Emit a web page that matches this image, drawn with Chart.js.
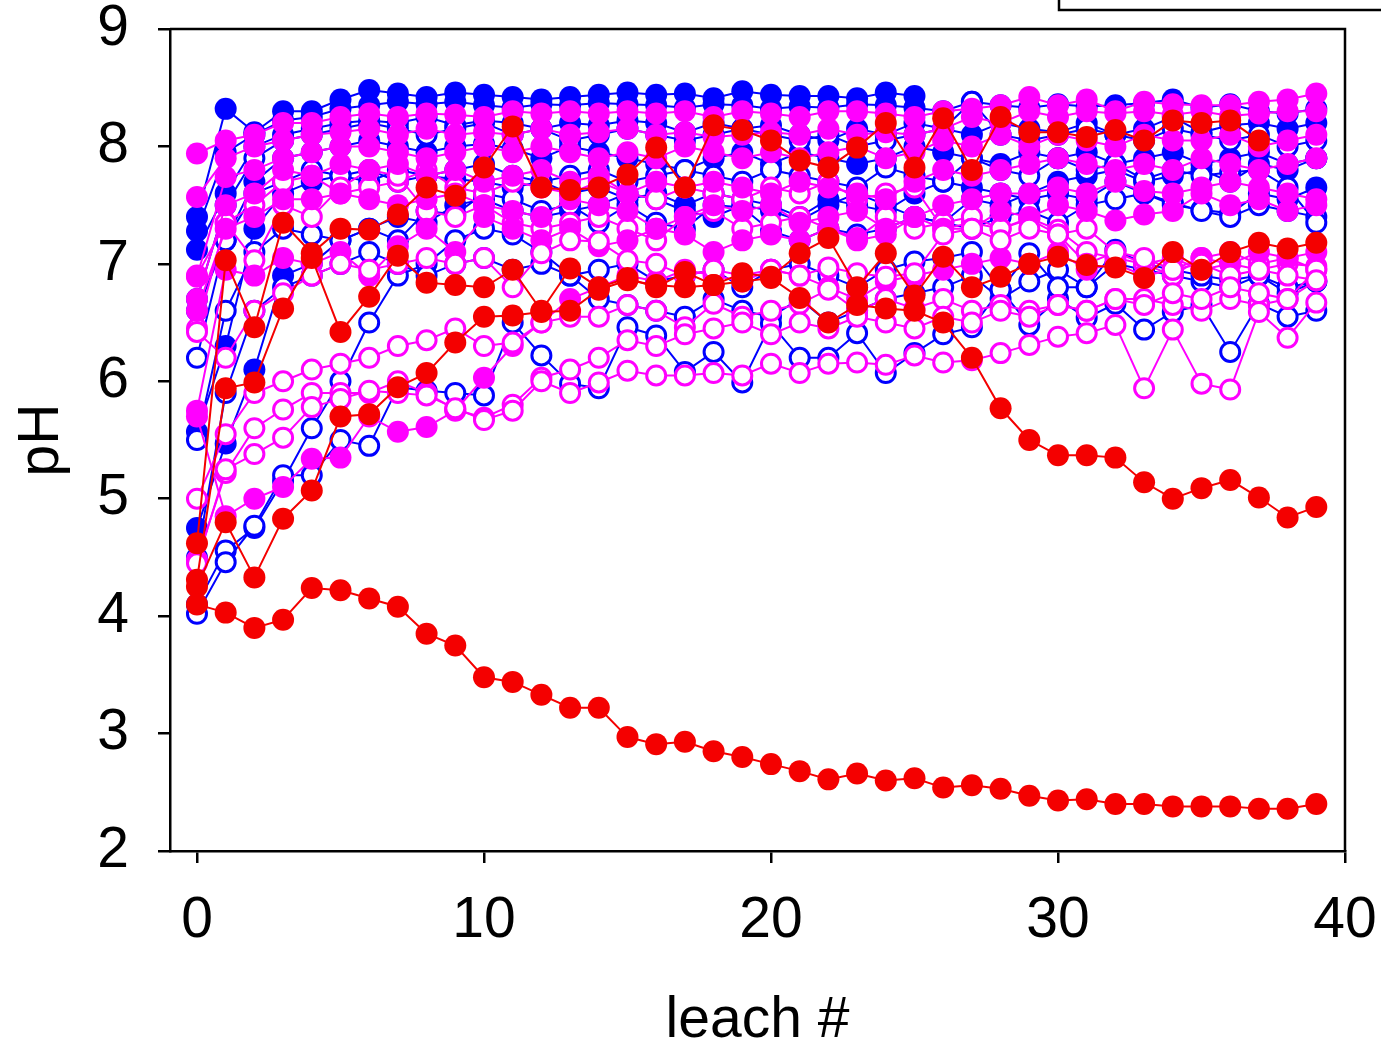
<!DOCTYPE html>
<html>
<head>
<meta charset="utf-8">
<script src="https://cdn.jsdelivr.net/npm/chart.js@4.4.1/dist/chart.umd.min.js"></script>
<style>
html,body{margin:0;padding:0;background:#fff;}
#wrap{width:1381px;height:1043px;position:relative;}
</style>
</head>
<body>
<div id="wrap"><canvas id="c" width="1381" height="1043"></canvas></div>
<script>
// ---------- data ----------
const leach = [0,1,2,3,4,5,6,7,8,9,10,11,12,13,14,15,16,17,18,19,20,21,22,23,24,25,26,27,28,29,30,31,32,33,34,35,36,37,38,39];
const xTicks = [0,10,20,30,40];
const yTicks = [2,3,4,5,6,7,8,9];

// red, filled
const redA = [4.10,4.03,3.90,3.97,4.24,4.22,4.15,4.08,3.85,3.75,3.48,3.44,3.33,3.22,3.22,2.97,2.91,2.93,2.85,2.80,2.74,2.68,2.61,2.66,2.60,2.62,2.54,2.56,2.53,2.47,2.43,2.44,2.40,2.40,2.38,2.38,2.38,2.36,2.36,2.40];
const redB = [4.25,4.80,4.33,4.83,5.07,5.70,5.72,5.95,6.07,6.33,6.55,6.56,6.59,6.60,6.78,6.86,6.82,6.80,6.82,6.85,6.88,6.71,6.50,6.65,6.62,6.60,6.50,6.20,5.77,5.50,5.37,5.37,5.35,5.14,5.00,5.09,5.16,5.01,4.84,4.93];
const redC = [4.31,5.94,5.99,6.62,7.05,6.42,6.72,7.07,6.84,6.82,6.80,6.95,6.60,6.96,6.80,6.88,6.80,6.93,6.82,6.92,6.89,7.09,7.22,6.80,7.09,6.73,7.06,6.80,6.89,7.00,7.06,6.99,6.97,6.88,7.10,6.95,7.10,7.18,7.13,7.18];
const redD = [4.62,7.03,6.46,7.35,7.09,7.30,7.29,7.42,7.65,7.58,7.82,8.17,7.65,7.63,7.65,7.76,7.99,7.65,8.18,8.14,8.05,7.88,7.82,7.99,8.20,7.82,8.24,7.80,8.25,8.12,8.12,8.08,8.14,8.05,8.22,8.20,8.22,8.05];

// blue, filled
const blueF1 = [7.40,8.32,8.12,8.30,8.30,8.40,8.48,8.45,8.42,8.46,8.44,8.42,8.40,8.42,8.44,8.46,8.44,8.45,8.41,8.47,8.44,8.43,8.43,8.41,8.46,8.43];
const blueF2 = [7.28,7.95,8.10,8.22,8.25,8.32,8.35,8.38,8.36,8.38,8.35,8.33,8.36,8.35,8.37,8.36,8.35,8.33,8.36,8.35,8.32,8.34,8.33,8.36,8.35,8.33,8.30,8.38,8.35,8.33,8.36,8.34,8.35,8.37,8.40,8.33,8.36,8.30,8.28,8.32];
const blueF3 = [7.12,7.60,8.00,8.10,8.15,8.20,8.22,8.20,8.25,8.18,8.22,8.20,8.15,8.20,8.18,8.22,8.20,8.12,8.20,8.15,8.18,8.10,8.05,8.15,8.10,8.20,8.15,8.10,8.20,8.15,8.12,8.20,8.10,8.15,8.25,8.12,8.18,8.20,8.15,8.20];
const blueF4 = [6.60,7.20,7.70,7.90,7.95,8.00,8.05,8.00,7.95,8.00,8.02,7.98,7.90,8.00,7.95,7.90,7.85,7.80,7.90,7.95,7.85,7.95,7.90,7.85,7.90,8.00,7.95,7.90,7.85,7.95,7.90,7.95,7.85,7.90,7.95,7.85,7.90,7.95,7.85,7.90];
const blueF5 = [5.57,6.30,7.30,7.60,7.70,7.75,7.80,7.70,7.75,7.72,7.70,7.65,7.70,7.60,7.65,7.55,7.60,7.50,7.60,7.55,7.50,7.40,7.55,7.50,7.45,7.60,7.70,7.65,7.60,7.55,7.60,7.55,7.70,7.60,7.50,7.46,7.43,7.60,7.55,7.65];
const blueF6 = [4.75,5.47,6.10,6.90,7.00,7.20,7.30,7.40,7.35,7.50,7.55,7.45,7.40,7.45,7.50,7.60,7.55,7.45,7.40,7.50,7.45,7.37,7.50,7.60,7.50,7.40,7.35,7.55,7.50,7.60,7.70,7.75,7.80,7.70,7.75,7.80,7.70,7.85,7.80,7.90];

// blue, open
const blueO1 = [6.70,7.50,7.90,8.05,8.10,8.15,8.20,8.15,8.10,8.15,8.20,8.10,8.15,8.05,8.10,8.15,8.10,8.05,8.10,8.15,8.10,8.05,8.10,8.00,8.05,8.10,8.15,8.38,8.10,8.05,8.10,8.15,8.10,8.05,8.15,8.10,8.05,8.10,8.00,8.05];
const blueO2 = [6.20,7.20,7.60,7.70,7.80,7.75,7.70,7.80,7.75,7.80,7.85,7.75,7.70,7.75,7.80,7.70,7.75,7.80,7.75,7.70,7.80,7.75,7.70,7.65,7.82,7.75,7.70,7.90,7.80,7.75,7.90,7.80,7.85,7.72,7.80,7.75,7.78,7.80,7.65,7.35];
const blueO3 = [5.50,6.60,7.10,7.30,7.25,7.20,7.30,7.20,7.45,7.42,7.60,7.55,7.45,7.50,7.35,7.50,7.35,7.30,7.50,7.48,7.28,7.20,7.30,7.25,7.30,7.40,7.35,7.30,7.40,7.45,7.35,7.50,7.55,7.60,7.52,7.45,7.40,7.50,7.45,7.40];
const blueO4 = [4.50,5.90,6.60,6.80,6.90,7.00,7.10,7.00,6.90,7.00,7.05,6.95,7.00,6.90,6.95,7.00,6.85,6.90,6.95,6.80,6.95,7.00,6.90,6.80,6.95,7.02,7.05,7.10,6.78,7.09,6.80,6.80,7.12,7.00,6.95,6.90,6.86,6.90,6.80,6.85];
const blueO5 = [4.02,4.46,4.77,5.20,5.20,5.50,5.45,5.95,5.92,5.90,5.88,6.50,6.22,5.98,5.94,6.46,6.39,6.08,6.25,5.99,6.49,6.20,6.20,6.41,6.07,6.24,6.40,6.46,6.78,6.48,6.70,6.54,6.66,6.44,6.59,6.65,6.25,6.66,6.55,6.60];
const blueO6 = [4.10,4.56,4.75,5.15,5.60,6.00,6.50,6.90,7.00,7.20,7.30,7.25,7.10,6.90,6.70,6.65,6.60,6.55,6.70,6.60,6.55,6.70,6.50,6.60,6.70,6.75,6.80,6.90,6.70,6.85,6.95,6.80,7.00,6.95,6.90,6.85,6.80,6.90,6.75,6.85];

// magenta, filled
const magF1 = [7.94,8.05,8.10,8.20,8.20,8.25,8.28,8.25,8.28,8.27,8.25,8.30,8.28,8.30,8.28,8.30,8.28,8.30,8.25,8.30,8.28,8.25,8.30,8.30,8.28,8.25,8.30,8.32,8.35,8.42,8.35,8.40,8.30,8.38,8.36,8.35,8.35,8.38,8.40,8.45];
const magF2 = [7.57,7.90,8.00,8.05,8.10,8.12,8.15,8.10,8.15,8.10,8.12,8.10,8.15,8.10,8.12,8.15,8.10,8.12,8.08,8.10,8.12,8.10,8.15,8.10,8.12,8.10,8.15,8.25,8.20,8.30,8.25,8.30,8.28,8.30,8.27,8.30,8.26,8.28,8.30,8.30];
const magF3 = [6.89,7.74,7.80,7.90,7.95,8.00,8.00,7.95,7.90,7.95,8.00,7.95,8.00,7.95,7.90,7.95,7.90,8.00,7.95,7.90,7.95,7.90,7.95,8.00,7.90,7.95,8.05,8.00,8.10,8.00,8.10,8.05,8.00,8.10,8.05,8.05,8.10,8.00,8.05,8.10];
const magF4 = [6.70,7.50,7.60,7.80,7.75,7.85,7.80,7.85,7.75,7.80,7.70,7.75,7.80,7.70,7.75,7.60,7.70,7.65,7.70,7.65,7.60,7.70,7.65,7.60,7.55,7.70,7.80,7.75,7.80,7.85,7.90,7.85,7.80,7.85,7.80,7.90,7.85,7.80,7.85,7.90];
const magF5 = [6.60,7.30,7.40,7.55,7.55,7.60,7.55,7.50,7.55,7.60,7.50,7.45,7.40,7.55,7.50,7.45,7.30,7.40,7.50,7.45,7.50,7.35,7.40,7.45,7.30,7.40,7.50,7.55,7.60,7.60,7.65,7.60,7.70,7.62,7.60,7.65,7.70,7.65,7.60,7.55];
const magF6 = [5.75,6.95,6.90,7.05,7.00,7.10,6.90,7.15,7.30,7.10,7.40,7.30,7.20,7.30,7.15,7.20,7.30,7.25,7.10,7.20,7.25,7.20,7.30,7.20,7.25,7.40,7.30,7.30,7.45,7.40,7.50,7.45,7.37,7.42,7.45,7.60,7.50,7.55,7.45,7.50];
const magF7 = [5.70,4.85,5.00,5.10,5.34,5.35,5.70,5.57,5.61,5.75,6.03,6.30,6.50,6.70,6.80,6.90,6.85,6.95,6.90,6.85,6.95,6.90,6.80,6.70,6.85,6.90,6.95,7.00,7.05,7.00,7.10,6.95,7.00,6.90,6.95,7.05,7.00,7.10,7.05,7.10];

// magenta, open
const magO1 = [4.45,5.25,5.38,5.52,5.78,5.85,5.92,5.90,5.88,5.77,5.67,5.75,6.00,5.90,5.99,6.09,6.05,6.05,6.07,6.05,6.15,6.07,6.15,6.16,6.14,6.22,6.16,6.18,6.24,6.31,6.38,6.41,6.48,5.94,6.44,5.98,5.93,6.59,6.37,6.67];
const magO2 = [4.48,5.22,5.60,5.76,5.90,5.90,5.90,6.00,5.90,5.76,5.69,5.80,6.03,6.10,6.20,6.35,6.30,6.40,6.45,6.50,6.40,6.50,6.45,6.55,6.50,6.45,6.55,6.50,6.60,6.55,6.65,6.60,6.70,6.65,6.75,6.70,6.80,6.75,6.70,6.86];
const magO3 = [5.00,5.55,5.90,6.00,6.10,6.15,6.20,6.30,6.35,6.45,6.30,6.33,6.50,6.55,6.55,6.65,6.60,6.46,6.66,6.55,6.60,6.66,6.78,6.60,6.70,6.62,6.70,6.60,6.65,6.60,6.65,6.60,6.70,6.70,6.65,6.60,6.70,6.65,6.70,6.95];
const magO4 = [6.42,6.20,6.60,6.75,6.90,7.00,6.95,7.00,7.05,7.00,7.05,6.80,7.09,7.20,7.19,7.03,7.00,6.90,6.95,6.90,6.95,6.90,6.97,6.92,6.89,6.92,7.25,7.30,7.20,7.30,7.25,7.00,7.10,7.05,6.95,7.00,6.90,6.95,6.90,6.86];
const magO5 = [6.45,7.35,7.03,7.50,7.40,7.65,7.80,7.75,7.45,7.40,7.50,7.35,7.30,7.35,7.40,7.30,7.20,7.40,7.45,7.30,7.35,7.40,7.30,7.22,7.40,7.30,7.35,7.40,7.30,7.38,7.25,7.30,7.10,7.00,6.90,7.05,7.10,7.00,7.05,6.95];
const magO6 = [6.90,7.35,7.50,7.70,7.75,7.60,7.65,7.70,7.80,7.65,7.60,7.70,7.65,7.60,7.70,7.60,7.55,7.65,7.60,7.55,7.65,7.60,7.70,7.55,7.60,7.65,7.30,7.35,7.30,7.39,7.29,7.10,7.05,7.00,7.05,6.95,7.00,6.95,7.00,6.98];

// ---------- styling ----------
const BLUE = '#0000ff', MAG = '#ff00ff', RED = '#f40000';

function pts(vals){ return vals.map((v,i)=>({x:leach[i], y:v})); }
function filled(vals, col){
  return {data:pts(vals), borderColor:col, backgroundColor:col, borderWidth:2,
    pointRadius:11, pointBorderWidth:0, pointBackgroundColor:col, pointBorderColor:col, tension:0};
}
function open(vals, col){
  return {data:pts(vals), borderColor:col, backgroundColor:'#ffffff', borderWidth:2,
    pointRadius:9.5, pointBorderWidth:3, pointBackgroundColor:'#ffffff', pointBorderColor:col, tension:0};
}

// bottom-most first, then reversed so the first ones are drawn underneath
const layers = [
  filled(blueF6,BLUE), filled(blueF5,BLUE), filled(blueF4,BLUE), filled(blueF3,BLUE), filled(blueF2,BLUE), filled(blueF1,BLUE),
  open(blueO6,BLUE), open(blueO5,BLUE), open(blueO4,BLUE), open(blueO3,BLUE), open(blueO2,BLUE), open(blueO1,BLUE),
  open(magO6,MAG), open(magO5,MAG),
  filled(magF7,MAG), filled(magF6,MAG), filled(magF5,MAG), filled(magF4,MAG), filled(magF3,MAG), filled(magF2,MAG), filled(magF1,MAG),
  open(magO4,MAG), open(magO3,MAG), open(magO2,MAG), open(magO1,MAG),
  filled(redD,RED), filled(redC,RED), filled(redB,RED), filled(redA,RED)
];
const datasets = layers.slice().reverse();

const frame = {
  id:'frame',
  afterDraw(chart){
    const {ctx, chartArea:a} = chart;
    ctx.save();
    ctx.strokeStyle = '#000';
    ctx.lineWidth = 2.5;
    ctx.beginPath();
    ctx.moveTo(a.left, a.top); ctx.lineTo(a.right, a.top); ctx.lineTo(a.right, a.bottom);
    ctx.stroke();
    // partially visible legend box, top right
    ctx.beginPath();
    ctx.moveTo(1059, -5); ctx.lineTo(1059, 10); ctx.lineTo(1390, 10);
    ctx.stroke();
    ctx.restore();
  }
};

const FONT = "'Liberation Sans', Arial, sans-serif";

new Chart(document.getElementById('c'), {
  type:'line',
  data:{datasets},
  plugins:[frame],
  options:{
    responsive:false, animation:false, devicePixelRatio:1,
    layout:{padding:{top:29, right:36, left:0, bottom:0}},
    plugins:{legend:{display:false}, tooltip:{enabled:false}},
    elements:{line:{tension:0}},
    scales:{
      x:{
        type:'linear', min:-0.94, max:40,
        afterBuildTicks(s){ s.ticks = xTicks.map(v=>({value:v})); },
        afterFit(s){ s.height = 192; s.paddingLeft = 0; s.paddingRight = 0; },
        grid:{display:true, drawOnChartArea:false, drawTicks:true, tickLength:12, color:'#000', lineWidth:2.5},
        border:{display:true, color:'#000', width:2.5},
        ticks:{color:'#000', padding:30, maxRotation:0, autoSkip:false, font:{family:FONT, size:57, lineHeight:1.0}},
        title:{display:true, text:'leach #', color:'#000', padding:{top:0,bottom:0}, font:{family:FONT, size:57, lineHeight:0.75}}
      },
      y:{
        type:'linear', min:2, max:9,
        afterBuildTicks(s){ s.ticks = yTicks.map(v=>({value:v})); },
        afterFit(s){ s.width = 170; s.paddingTop = 0; s.paddingBottom = 0; },
        grid:{display:true, drawOnChartArea:false, drawTicks:true, tickLength:12, color:'#000', lineWidth:2.5},
        border:{display:true, color:'#000', width:2.5},
        ticks:{color:'#000', padding:29, font:{family:FONT, size:57, lineHeight:1.0}},
        title:{display:true, text:'pH', color:'#000', padding:{top:14,bottom:0}, font:{family:FONT, size:57, lineHeight:1.0}}
      }
    }
  }
});
</script>
</body>
</html>
